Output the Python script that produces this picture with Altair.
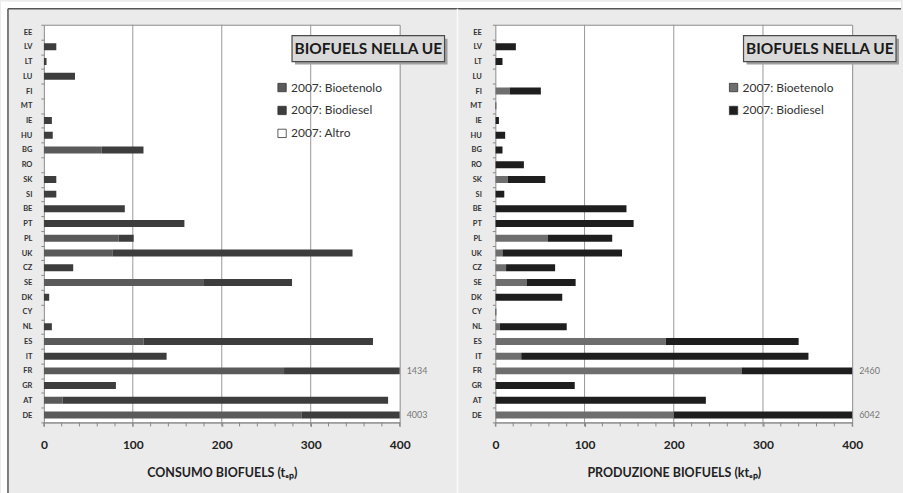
import altair as alt
import pandas as pd

countries = ["EE", "LV", "LT", "LU", "FI", "MT", "IE", "HU", "BG", "RO", "SK", "SI", "BE", "PT",
             "PL", "UK", "CZ", "SE", "DK", "CY", "NL", "ES", "IT", "FR", "GR", "AT", "DE"]
series_left = ["2007: Bioetenolo", "2007: Biodiesel", "2007: Altro"]
series_right = ["2007: Bioetenolo", "2007: Biodiesel"]

# Consumo biofuels (t_ep): bioetanolo part and total
cons_ethanol = [0, 0, 0, 0, 0, 0, 0, 0, 65, 0, 0, 0, 0, 0,
                84, 77, 0, 180, 0, 0, 0, 112, 0, 270, 0, 21, 290]
cons_total = [0, 14, 3, 35, 0, 0, 9, 10, 112, 0, 14, 14, 91, 158,
              101, 347, 33, 279, 6, 0, 9, 370, 138, 1434, 81, 387, 4003]

# Produzione biofuels (kt_ep): bioetanolo part and total
prod_ethanol = [0, 0, 0, 0, 16, 0, 0, 0, 0, 0, 14, 0, 0, 0,
                59, 8, 12, 35, 0, 0, 5, 191, 29, 276, 0, 0, 200]
prod_total = [0, 23, 8, 0, 51, 1, 4, 11, 8, 32, 56, 10, 147, 155,
              131, 142, 67, 90, 75, 1, 80, 340, 351, 2460, 89, 236, 6042]

major_ticks = [0, 100, 200, 300, 400]
minor_ticks = [0, 20, 40, 60, 80, 100, 120, 140, 160, 180, 200, 220, 240, 260, 280,
               300, 320, 340, 360, 380, 400]
grid_values = [100, 200, 300]
box_title = "BIOFUELS NELLA UE"
title_left = "CONSUMO BIOFUELS (tₑₚ)"
title_right = "PRODUZIONE BIOFUELS (ktₑₚ)"

FONT = "Lato"
H = 399


def long_df(eth, tot):
    rows = []
    for i, c in enumerate(countries):
        rows.append(dict(country=c, series=series_left[0], ord=0, value=eth[i], total=tot[i]))
        rows.append(dict(country=c, series=series_left[1], ord=1, value=tot[i] - eth[i], total=tot[i]))
    return pd.DataFrame(rows)


def panel(df, dom, rng, xtitle, width, ylabpad, frame=False):
    yenc = alt.Y("country:N", sort=countries, title=None,
                 scale=alt.Scale(paddingInner=0, paddingOuter=0),
                 axis=alt.Axis(labelFont=FONT, labelFontWeight="bold", labelFontSize=7.5,
                               labelColor="#333333", tickBand="extent", tickSize=3,
                               tickColor="#888888", domain=False, labelPadding=ylabpad,
                               grid=False))
    xenc = alt.X("value:Q", stack="zero", title=xtitle,
                 scale=alt.Scale(domain=[0, 400], nice=False),
                 axis=alt.Axis(values=major_ticks, labelOverlap=False, grid=False,
                               domainColor="#888888", tickColor="#888888", tickSize=4,
                               labelFont=FONT, labelFontWeight="bold", labelFontSize=12,
                               labelColor="#222222", labelPadding=13, labelFlush=False,
                               titleFont=FONT, titleFontWeight="bold", titleFontSize=12.5,
                               titleColor="#222222", titlePadding=16))
    grid = alt.Chart(pd.DataFrame({"g": grid_values})).mark_rule(
        color="#9a9a9a", strokeWidth=1).encode(x=alt.X("g:Q"))
    minor = alt.Chart(pd.DataFrame({"m": minor_ticks})).mark_rule(
        color="#888888", strokeWidth=1).encode(x=alt.X("m:Q"), y=alt.value(H), y2=alt.value(H + 4))
    bars = alt.Chart(df).mark_bar(size=7, clip=True).encode(
        x=xenc,
        y=yenc,
        color=alt.Color("series:N", scale=alt.Scale(domain=dom, range=rng),
                        legend=alt.Legend(title=None, orient="none", legendX=233, legendY=57,
                                          symbolType="square", symbolSize=70,
                                          symbolStrokeColor="#333333", symbolStrokeWidth=0.8,
                                          labelFont=FONT, labelFontSize=12, labelColor="#333333",
                                          labelOffset=3, rowPadding=11, padding=0)),
        order=alt.Order("ord:Q"),
    )
    labels = alt.Chart(df).transform_filter(
        "datum.ord === 1 && datum.total > 400"
    ).transform_calculate(cap="min(datum.total, 400)").mark_text(
        align="left", dx=7, fontSize=9, color="#777777", font=FONT
    ).encode(x=alt.X("cap:Q"), y=alt.Y("country:N", sort=countries), text=alt.Text("total:Q"))

    one = pd.DataFrame({"t": [box_title]})
    shadow = alt.Chart(one).mark_rect(fill="#a0a0a0").encode(
        x=alt.value(252), x2=alt.value(405), y=alt.value(14), y2=alt.value(40))
    box = alt.Chart(one).mark_rect(fill="#d9d9d9", stroke="#4a4a4a", strokeWidth=1.2).encode(
        x=alt.value(249), x2=alt.value(402), y=alt.value(11), y2=alt.value(37))
    txt = alt.Chart(one).mark_text(font=FONT, fontWeight="bold", fontSize=15.5,
                                   color="#1a1a1a").encode(
        x=alt.value(325.5), y=alt.value(24.5), text="t:N")
    layers = [grid, bars, minor, labels, shadow, box, txt]
    if frame:
        w1 = alt.Chart(one).mark_rect(fill="white").encode(
            x=alt.value(-43), x2=alt.value(860), y=alt.value(-23), y2=alt.value(-16))
        w2 = alt.Chart(one).mark_rect(fill="white").encode(
            x=alt.value(-43), x2=alt.value(-36), y=alt.value(-23), y2=alt.value(470))
        l1 = alt.Chart(one).mark_rule(color="#555555", strokeWidth=1.5).encode(
            x=alt.value(-36), x2=alt.value(860), y=alt.value(-16))
        l2 = alt.Chart(one).mark_rule(color="#555555", strokeWidth=1.5).encode(
            x=alt.value(-36), y=alt.value(-16), y2=alt.value(470))
        sep = alt.Chart(one).mark_rule(color="#fafafa", strokeWidth=1.5).encode(
            x=alt.value(415), y=alt.value(-16), y2=alt.value(470))
        layers = [w1, w2, l1, l2, sep] + layers
    return alt.layer(*layers).properties(width=width, height=H)


left = panel(long_df(cons_ethanol, cons_total), series_left,
             ["#5a5a5a", "#3d3d3d", "#ffffff"], title_left, 357, 9, frame=True)
right = panel(long_df(prod_ethanol, prod_total), series_right,
              ["#6e6e6e", "#1e1e1e"], title_right, 358, 11)

chart = alt.hconcat(left, right, spacing=96, bounds="flush").resolve_scale(
    color="independent").resolve_legend(color="independent").properties(
    padding=0, background="#ebebeb").configure_view(fill="white", stroke="#8c8c8c")

chart.save("out.html", embed_options={"renderer": "svg", "actions": False})
